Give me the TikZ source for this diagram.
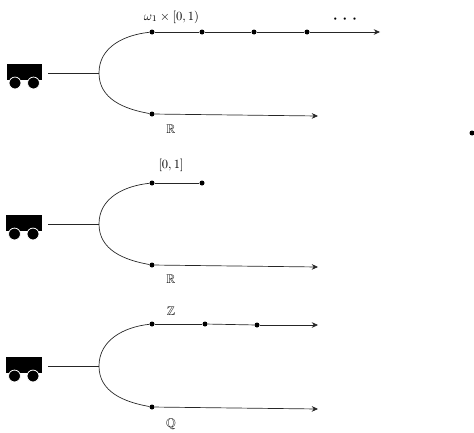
\documentclass[tikz,border=0pt]{standalone}
\usepackage{amssymb}
\usepackage{tikz}
\usetikzlibrary{arrows.meta}
\tikzset{
  dot/.style={circle,fill=black,inner sep=0pt,minimum size=4pt},
  body/.style={rectangle,fill=black,inner sep=0pt,minimum width=28.5pt,minimum height=13pt},
  wheel/.style={circle,fill=black,draw=white,line width=0.6pt,inner sep=0pt,minimum size=9.5pt},
  branch/.style={line width=0.55pt,black!85},
  ray/.style={branch,-{Stealth[length=5pt,width=4.5pt]}}
}
\begin{document}
\begin{tikzpicture}[x=0.8pt,y=-0.8pt]
        \useasboundingbox (0,0) rectangle (474,432);
        % carts and forks
        \foreach \n/\bx/\by/\fy/\ty/\ly in {a/24.5/72/73/32/114,b/24/223/224/183/265,c/24/365/366/324/407}{
          \node[body] (body\n) at (\bx,\by) {};
          \node[wheel] (wl\n) at (\bx-9.5,\by+11) {};
          \node[wheel] (wr\n) at (\bx+9,\by+11) {};
          \coordinate (tail\n) at (48,\fy);
          \coordinate (fork\n) at (99,\fy);
          \node[dot] (top\n) at (152,\ty) {};
          \node[dot] (low\n) at (152,\ly) {};
          \draw[branch] (tail\n) -- (fork\n);
          \draw[branch] (fork\n) .. controls +(0,-26) and +(-28,3) .. (top\n);
          \draw[branch] (fork\n) .. controls +(0,26) and +(-28,-5) .. (low\n);
        }
        % upper rays
        \node[dot] (a1) at (202,32) {};
        \node[dot] (a2) at (254,32) {};
        \node[dot] (a3) at (307,32) {};
        \coordinate (aend) at (380,32);
        \draw[branch] (topa) -- (a1);
        \draw[branch] (a1) -- (a2);
        \draw[branch] (a2) -- (a3);
        \draw[ray] (a3) -- (aend);
        \node[dot] (b1) at (202,183) {};
        \draw[branch] (topb) -- (b1);
        \node[dot] (c1) at (205,324) {};
        \node[dot] (c2) at (257,325) {};
        \coordinate (cend) at (318,325);
        \draw[branch] (topc) -- (c1);
        \draw[branch] (c1) -- (c2);
        \draw[ray] (c2) -- (cend);
        % lower rays
        \coordinate (lowaend) at (318,116);
        \coordinate (lowbend) at (318,267);
        \coordinate (lowcend) at (318,409);
        \draw[ray] (lowa) -- (lowaend);
        \draw[ray] (lowb) -- (lowbend);
        \draw[ray] (lowc) -- (lowcend);
        % labels
        \node (lomega) at (171.5,17) {$\omega_1\times[0,1)$};
        \node[font=\LARGE] (ldots) at (345,20) {$\cdots$};
        \node (lra) at (171,129) {$\mathbb{R}$};
        \node (lunit) at (171,165) {$[0,1]$};
        \node (lrb) at (171,279) {$\mathbb{R}$};
        \node (lz) at (171,311) {$\mathbb{Z}$};
        \node (lq) at (171,424) {$\mathbb{Q}$};
        \node[dot] (stray) at (472,133) {};
      \end{tikzpicture}
\end{document}
